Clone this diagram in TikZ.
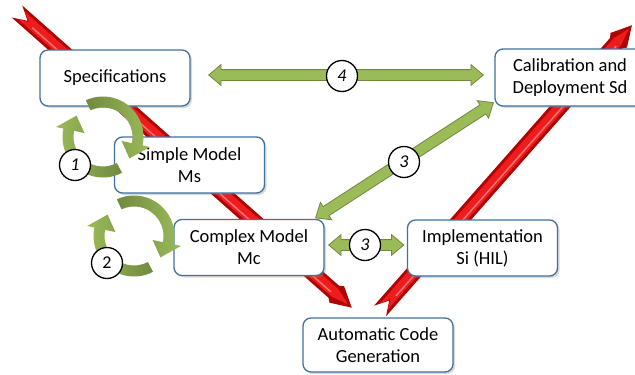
\documentclass[tikz,border=0pt]{standalone}
\usepackage{fontspec}
\setmainfont{Carlito}
\usetikzlibrary{shapes.arrows,shadows,calc}

\definecolor{boxline}{HTML}{41719C}
\definecolor{gfill}{HTML}{9BBB59}
\definecolor{gdark}{HTML}{71893F}
\definecolor{vred}{HTML}{EE1C1C}
\definecolor{vdark}{HTML}{B00404}

\tikzset{
  stage/.style={draw=boxline, line width=1.3pt, fill=white, rounded corners=8pt,
    minimum width=150pt, minimum height=56pt, align=center,
    font=\fontsize{18.5}{22}\selectfont,
    drop shadow={shadow xshift=2pt, shadow yshift=-2pt, opacity=0.3}},
  linkarrow/.style={double arrow, draw=gdark, fill=gfill, line width=0.8pt,
    inner xsep=0pt, inner ysep=5pt, double arrow head extend=5pt,
    double arrow tip angle=80},
  tag/.style={circle, draw=black, line width=1.3pt, fill=white, minimum size=31pt,
    inner sep=0pt, font=\fontsize{18}{22}\selectfont\itshape},
}

% red V beam: tail centre, angle, length
\newcommand{\vbeam}[3]{%
  \begin{scope}[shift={#1}, rotate=#2]
    \fill[vdark] (0,8) -- ({#3-24},8) -- ({#3-20},11) -- (#3,0) -- ({#3-20},-11)
      -- ({#3-24},-8) -- (0,-8) -- (14,0) -- cycle;
    \fill[vred] (6,5) -- ({#3-22},5) -- ({#3-5},0) -- ({#3-22},-5)
      -- (6,-5) -- (16,0) -- cycle;
    \draw[vred!45!white, line width=1.5pt, opacity=0.7] (22,2) -- ({#3-26},2);
  \end{scope}}

% green round arrow: centre, tail angle, head angle, shading
\newcommand{\turnarrow}[4]{%
  \shade[#4, shift={#1}] (#2:40.5) arc[start angle=#2, end angle=#3, radius=40.5]
    -- (#3:48) -- ({#3+27}:34) -- (#3:19) -- (#3:29.5)
    arc[start angle=#3, end angle=#2, radius=29.5] -- cycle;}

% green double arrow between two points
\newcommand{\greenlink}[2]{%
  \path let \p1=(#1), \p2=(#2), \n1={atan2(\y2-\y1,\x2-\x1)},
    \n2={veclen(\x2-\x1,\y2-\y1)} in
    node[linkarrow, rotate=\n1, minimum height=\n2] at ($(\p1)!0.5!(\p2)$) {};}

\begin{document}
\begin{tikzpicture}[x=1pt,y=-1pt]
  \useasboundingbox (0,0) rectangle (635,375);

  \vbeam{(17,11.5)}{-41.5}{447}
  \vbeam{(380,311)}{48.6}{381}

  \node[stage] (spec) at (115,78) {Specifications};
  \node[stage] (simple) at (189.5,165) {Simple Model\\Ms};
  \node[stage] (complex) at (249,247.5) {Complex Model\\Mc};
  \node[stage] (impl) at (482.5,248) {Implementation\\Si (HIL)};
  \node[stage, minimum height=54pt] (acg) at (378,345) {Automatic Code\\Generation};
  \node[stage, minimum height=57pt] (calib) at (570,77.5) {Calibration and\\Deployment Sd};

  \turnarrow{(103,137)}{-115}{12}{left color=gdark, right color=gfill}
  \turnarrow{(103,137)}{62}{192}{left color=gfill, right color=gdark}
  \turnarrow{(134,236)}{-115}{12}{left color=gdark, right color=gfill}
  \turnarrow{(134,236)}{62}{192}{left color=gfill, right color=gdark}

  \greenlink{[shift={(18,-3)}]spec.east}{[shift={(-11,-2.5)}]calib.west}
  \greenlink{[shift={(-9,-1)}]complex.north east}{[shift={(-1,-4)}]calib.south west}
  \greenlink{[shift={(4,-2.5)}]complex.east}{[shift={(-3,-3)}]impl.west}

  \node[tag] (n1) at (75,165) {1};
  \node[tag, font=\fontsize{18}{22}\selectfont] (n2) at (107,263) {2};
  \node[tag] (n3) at (404,162) {3};
  \node[tag] (n3b) at (365,245) {3};
  \node[tag] (n4) at (342,76) {4};
\end{tikzpicture}
\end{document}
